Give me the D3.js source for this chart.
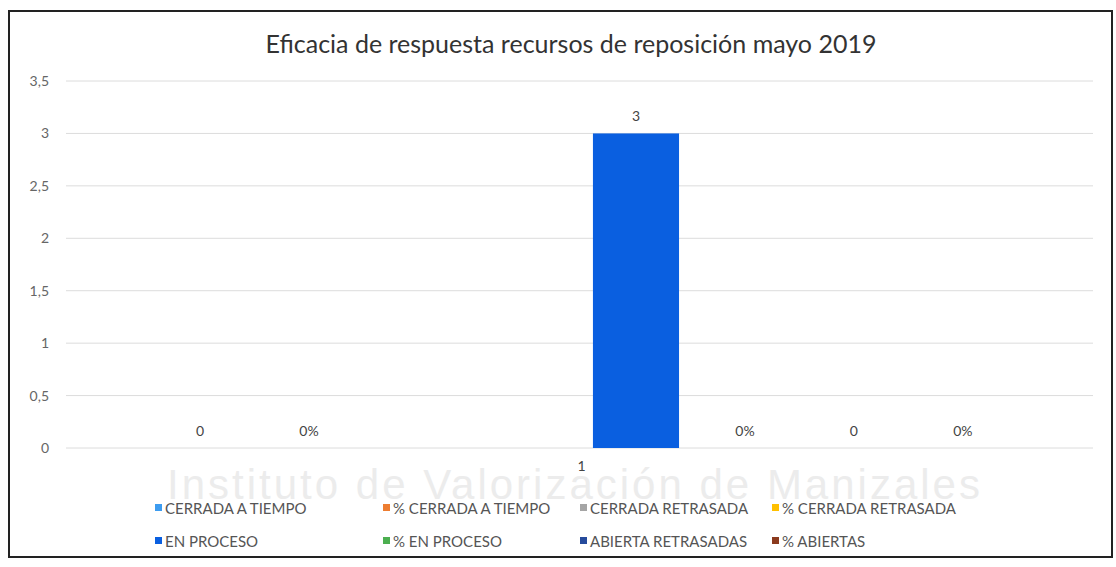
<!DOCTYPE html>
<html>
<head>
<meta charset="utf-8">
<script src="https://cdn.jsdelivr.net/npm/d3@7"></script>
<style>
  html, body { margin: 0; padding: 0; background: #fff; }
  svg { display: block; }
</style>
</head>
<body>
<svg id="chart" width="1116" height="567"></svg>
<script>
const title = "Eficacia de respuesta recursos de reposición mayo 2019";
const categories = ["1"];
const seriesNames = ["CERRADA A TIEMPO", "% CERRADA A TIEMPO", "CERRADA RETRASADA", "% CERRADA RETRASADA",
                     "EN PROCESO", "% EN PROCESO", "ABIERTA RETRASADAS", "% ABIERTAS"];
const seriesValues = [0, 0, 0, 0, 3, 0, 0, 0];
const seriesLabels = ["0", "0%", "", "", "3", "0%", "0", "0%"];
const seriesColors = ["#3d9cf0", "#ed7d31", "#a5a5a5", "#ffc000", "#0a5fe0", "#4caf50", "#264b9c", "#8b3a1e"];
const yTicks = [0, 0.5, 1, 1.5, 2, 2.5, 3, 3.5];
const watermark = "Instituto de Valorización de Manizales";

const svg = d3.select("#chart");
const font = "Lato, 'Open Sans', sans-serif";

// frame
svg.append("rect").attr("x", 9).attr("y", 11).attr("width", 1103).attr("height", 546)
  .attr("fill", "#fff").attr("stroke", "#222").attr("stroke-width", 2);

const margin = { left: 68, right: 1095, top: 81, bottom: 448 };

// watermark
svg.append("text").attr("x", 575).attr("y", 499).attr("text-anchor", "middle")
  .attr("font-family", "'Liberation Sans', Arial, sans-serif").attr("font-size", 42)
  .attr("letter-spacing", 3).attr("fill", "#ececec").text(watermark);

const y = d3.scaleLinear().domain([0, 3.5]).range([margin.bottom, margin.top]);
const x0 = d3.scaleBand().domain(categories).range([margin.left, margin.right]).paddingOuter(0.089);
const x1 = d3.scaleBand().domain(seriesNames).range([0, x0.bandwidth()]).paddingInner(0.21).paddingOuter(0.105);

// gridlines
svg.append("g").selectAll("line").data(yTicks).join("line")
  .attr("x1", margin.left - 2).attr("x2", margin.right - 2)
  .attr("y1", d => y(d)).attr("y2", d => y(d))
  .attr("stroke", "#dcdcdc").attr("stroke-width", 1);

// y axis labels
const fmt = d => String(d).replace(".", ",");
const yAxis = d3.axisLeft(y).tickValues(yTicks).tickFormat(fmt).tickSize(0).tickPadding(0);
const gy = svg.append("g").attr("transform", `translate(${margin.left - 19},0)`).call(yAxis);
gy.select(".domain").remove();
gy.selectAll("text").attr("font-family", font).attr("font-size", 14).attr("fill", "#666");

// x axis label
const xAxis = d3.axisBottom(x0).tickSize(0).tickPadding(13);
const gx = svg.append("g").attr("transform", `translate(0,${margin.bottom})`).call(xAxis);
gx.select(".domain").remove();
gx.selectAll("text").attr("font-family", font).attr("font-size", 14).attr("fill", "#444");

// bars
const data = seriesNames.map((s, i) => ({ s, v: seriesValues[i], label: seriesLabels[i], color: seriesColors[i] }));
const g = svg.append("g").attr("transform", `translate(${x0(categories[0])},0)`);
g.selectAll("rect").data(data).join("rect")
  .attr("x", d => x1(d.s)).attr("width", x1.bandwidth())
  .attr("y", d => y(d.v)).attr("height", d => y(0) - y(d.v))
  .attr("fill", d => d.color);
g.selectAll("text").data(data.filter(d => d.label !== "")).join("text")
  .attr("x", d => x1(d.s) + x1.bandwidth() / 2)
  .attr("y", d => y(d.v) - 12)
  .attr("text-anchor", "middle")
  .attr("font-family", font).attr("font-size", 14).attr("fill", "#444")
  .text(d => d.label);

// title
svg.append("text").attr("x", 571).attr("y", 53).attr("text-anchor", "middle")
  .attr("font-family", font).attr("font-size", 25).attr("fill", "#333").text(title);

// legend
const legCols = [155, 383, 580, 772];
const legRows = [514, 547];
const leg = svg.append("g").selectAll("g").data(data).join("g")
  .attr("transform", (d, i) => `translate(${legCols[i % 4]},${legRows[Math.floor(i / 4)]})`);
leg.append("rect").attr("x", 0).attr("y", -10).attr("width", 7).attr("height", 7).attr("fill", d => d.color);
leg.append("text").attr("x", 10).attr("y", 0).attr("font-family", font).attr("font-size", 15)
  .attr("fill", "#555").text(d => d.s);
</script>
</body>
</html>
